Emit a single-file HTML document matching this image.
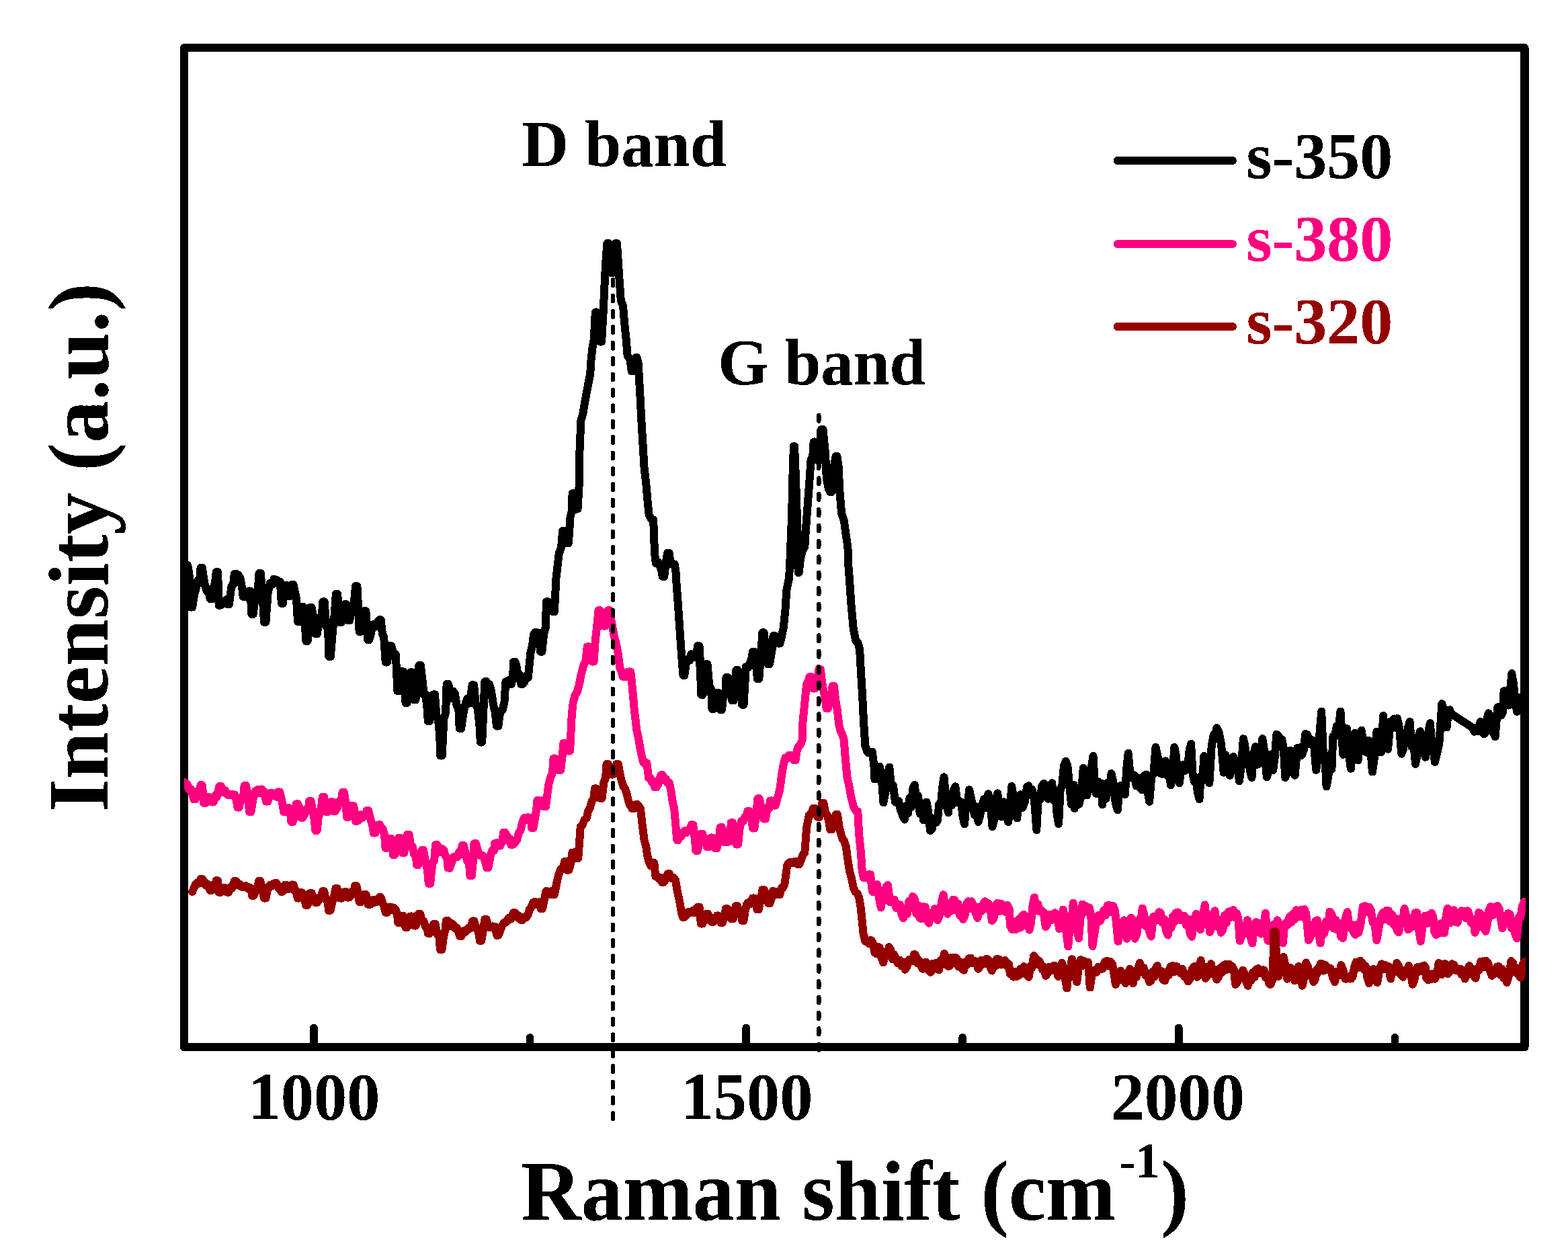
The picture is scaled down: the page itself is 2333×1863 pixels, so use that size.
<!DOCTYPE html>
<html lang="en">
<head>
<meta charset="utf-8">
<title>Raman spectra</title>
<style>
html,body{margin:0;padding:0;background:#fff;}
body{width:2333px;height:1863px;overflow:hidden;}
svg{display:block;}
text{font-family:"Liberation Serif","DejaVu Serif",serif;font-weight:bold;stroke-linejoin:round;}
</style>
</head>
<body>
<svg width="2333" height="1863" viewBox="0 0 2333 1863">
<rect x="0" y="0" width="2333" height="1863" fill="#ffffff"/>
<defs><filter id="hard" filterUnits="userSpaceOnUse" x="0" y="0" width="2333" height="1863" color-interpolation-filters="sRGB"><feComponentTransfer><feFuncA type="discrete" tableValues="0 1"/></feComponentTransfer></filter></defs>
<defs><clipPath id="plotclip"><rect x="273.9" y="70.9" width="1996.1" height="1487.3"/></clipPath></defs>
<rect id="frame" filter="url(#hard)" x="273.9" y="70.9" width="1994.6" height="1487.3" fill="none" stroke="#000" stroke-width="12" stroke-linejoin="round"/>
<g id="ticks" filter="url(#hard)" stroke="#000" stroke-width="11.6" stroke-linecap="round">
<line x1="466.9" y1="1558.2" x2="466.9" y2="1529.4"/>
<line x1="1110.3" y1="1558.2" x2="1110.3" y2="1529.4"/>
<line x1="1753.8" y1="1558.2" x2="1753.8" y2="1529.4"/>
<line x1="788.6" y1="1558.2" x2="788.6" y2="1543.8"/>
<line x1="1432.1" y1="1558.2" x2="1432.1" y2="1543.8"/>
<line x1="2075.5" y1="1558.2" x2="2075.5" y2="1543.8"/>
</g>
<g id="curves" clip-path="url(#plotclip)">
<polyline id="s350" filter="url(#hard)" points="279.3,841.3 282.1,858.8 283.7,903.6 286.1,903.6 289.2,884.8 292.3,872.9 294.8,862.5 297.2,865.7 298.5,845.1 300.9,845.1 303.1,860.2 305.3,872.9
308.1,880.3 310.9,876.9 312.5,891.0 314.9,891.0 317.6,880.2 320.3,863.7 321.8,851.0 324.1,851.0 325.6,900.8 327.9,900.8 330.5,899.3 332.0,895.2
334.4,895.2 337.0,891.9 338.5,899.0 340.9,899.0 344.3,872.9 347.1,869.4 348.7,854.0 351.1,854.0 354.2,855.0 357.4,859.9 360.1,874.6 361.7,887.8
364.1,887.8 366.5,881.1 368.9,889.4 370.1,879.4 372.5,879.4 374.4,913.8 376.8,913.8 379.3,891.7 381.8,890.7 384.2,871.2 385.5,852.9 387.9,852.9
391.0,894.2 393.0,925.9 395.4,925.9 398.7,881.6 402.0,867.4 404.8,870.1 407.5,861.6 409.1,862.7 411.5,862.7 414.1,868.6 416.8,865.5 418.8,898.0
420.8,898.0 423.0,878.3 424.0,871.1 426.4,871.1 428.7,886.9 431.1,886.9 433.2,884.3 434.2,870.1 436.6,870.1 438.8,880.5 441.0,891.5 443.0,925.0
445.0,925.0 447.2,918.6 448.2,902.7 450.6,902.7 453.5,921.4 455.2,953.8 457.6,953.8 460.0,932.7 461.2,904.0 463.6,904.0 466.0,915.4 468.3,931.5
469.5,943.2 471.9,943.2 474.3,923.4 476.7,926.3 479.1,911.2 480.3,895.2 482.7,895.2 485.3,932.5 488.0,933.9 489.4,977.0 491.8,977.0 494.9,939.4
497.9,912.5 499.8,883.7 502.2,883.7 505.2,925.9 507.6,925.9 510.8,916.8 512.7,899.0 515.1,899.0 517.9,923.1 520.3,923.1 522.8,903.7 525.2,906.2
527.7,887.8 529.0,872.0 531.4,872.0 533.6,914.3 534.6,939.9 537.0,939.9 540.1,917.4 542.0,909.2 544.4,909.2 547.1,951.9 549.5,951.9 552.1,941.5
554.6,929.6 557.2,928.7 560.0,932.0 562.7,924.4 564.3,922.2 566.7,922.2 568.9,943.4 571.1,947.3 573.7,985.4 576.0,985.4 578.6,967.5 580.1,961.2
582.5,961.2 585.6,975.0 588.8,973.3 591.4,1028.1 593.7,1028.1 596.4,1008.0 597.8,999.3 600.2,999.3 602.4,1026.3 603.4,1045.8 605.8,1045.8 608.9,1017.9
610.8,1000.3 613.2,1000.3 616.0,1041.2 618.4,1041.2 621.5,1023.0 623.4,990.0 625.8,990.0 628.2,1009.7 630.7,1033.6 633.1,1032.4 635.6,1055.1 636.8,1073.1
639.2,1073.1 642.5,1050.5 644.6,1033.2 647.0,1033.2 649.4,1064.7 651.8,1070.5 654.1,1092.5 655.3,1124.5 657.7,1124.5 660.4,1069.6 663.1,1060.3 664.6,1018.0
667.0,1018.0 669.5,1028.6 672.0,1039.2 674.5,1028.7 677.0,1032.9 679.6,1049.9 682.3,1054.8 683.7,1084.0 686.1,1084.0 689.5,1061.4 692.8,1045.9 695.6,1039.2
698.3,1046.7 701.1,1030.8 702.7,1019.3 705.1,1019.3 707.8,1048.6 710.5,1053.5 713.3,1077.3 714.8,1104.4 717.2,1104.4 719.9,1045.2 721.3,1014.3 723.7,1014.3
725.9,1025.2 728.1,1018.0 730.9,1028.0 733.6,1045.9 736.9,1061.8 738.9,1080.6 741.3,1080.6 744.3,1059.0 747.4,1057.1 750.4,1045.9 752.4,1014.3 754.4,1014.3
757.1,1012.2 758.5,1018.0 760.9,1018.0 763.1,1008.5 764.0,984.9 766.4,984.9 768.9,992.9 771.4,1009.8 773.9,1004.6 775.2,1018.0 777.6,1018.0 780.3,1014.9
783.0,1006.1 785.7,1008.7 789.4,971.5 791.8,961.4 794.1,943.6 796.6,940.7 799.0,951.3 800.3,941.4 802.6,941.4 804.1,969.7 806.4,969.7 809.1,943.3
811.7,934.3 813.0,895.3 814.8,895.3 817.8,905.0 820.8,897.4 822.6,910.2 824.9,910.2 827.5,860.0 831.7,823.5 835.0,814.8 837.1,790.0 839.5,790.0
842.1,794.5 843.6,808.3 845.9,808.3 848.5,769.6 850.6,761.3 851.6,734.3 854.0,734.3 856.4,741.2 857.5,757.5 859.5,757.5 861.5,725.0 862.4,672.9
864.3,626.5 867.5,614.6 870.8,594.9 874.5,575.1 878.2,556.5 879.5,536.1 881.6,516.5 883.8,504.5 885.8,464.5 887.8,464.5 890.9,490.6 892.8,508.6
895.1,508.6 897.7,463.6 899.2,430.1 901.1,392.9 903.3,362.1 905.4,362.1 908.1,377.3 909.5,405.9 911.9,405.9 914.6,388.7 916.0,362.1 918.0,362.1
920.0,392.9 921.9,420.8 923.8,446.8 927.1,456.1 929.3,482.2 931.6,504.5 933.6,528.6 937.7,536.1 939.7,551.9 941.7,551.9 944.4,534.7 945.8,532.3
947.8,532.3 949.8,541.6 951.3,569.5 952.0,580.0 954.4,626.5 957.2,672.9 958.7,698.0 961.3,719.4 963.7,747.3 965.6,765.9 968.9,772.6 972.1,773.3
973.0,793.8 973.9,821.6 975.8,838.4 978.6,835.4 981.4,840.2 984.2,849.2 985.8,857.9 988.2,857.9 991.3,833.5 993.2,822.9 995.6,822.9 997.8,839.3
1000.0,838.4 1003.7,839.7 1005.5,851.4 1005.9,859.9 1008.7,897.2 1012.5,952.9 1015.2,990.1 1016.5,1005.0 1018.3,1005.0 1021.0,985.7 1023.6,980.8 1026.1,982.8
1028.5,973.2 1031.0,975.2 1033.8,978.3 1036.6,969.8 1038.2,961.3 1040.6,961.3 1042.8,1001.0 1043.8,1032.9 1046.2,1032.9 1038.1,961.3 1040.5,961.3 1043.3,1033.8
1045.7,1033.8 1048.6,1006.6 1050.2,988.3 1052.6,988.3 1055.3,1020.4 1058.0,1025.7 1059.5,1054.8 1061.9,1054.8 1065.0,1045.7 1066.9,1031.0 1069.3,1031.0 1071.6,1056.1
1074.0,1056.1 1076.6,1031.6 1079.1,1034.5 1080.5,1008.1 1082.9,1008.1 1085.4,1018.8 1087.9,1031.0 1089.2,1042.2 1091.6,1042.2 1094.1,1017.2 1095.3,997.0 1097.7,997.0
1100.2,1022.7 1102.8,1020.2 1104.1,1048.7 1106.5,1048.7 1109.9,992.0 1112.7,994.0 1115.5,988.3 1118.3,979.5 1119.9,970.0 1122.3,970.0 1125.2,992.5 1126.9,1010.2
1129.3,1010.2 1132.4,969.4 1134.4,941.2 1136.8,941.2 1139.1,969.2 1141.5,965.6 1142.6,988.3 1145.0,988.3 1148.3,969.5 1150.5,945.9 1152.9,945.9 1156.1,949.5
1158.0,957.6 1160.4,957.6 1163.1,946.4 1165.7,934.3 1168.5,906.5 1170.3,878.6 1174.1,860.0 1175.5,832.3 1178.1,767.3 1179.8,692.9 1181.0,663.9 1182.0,663.9
1183.3,692.9 1184.6,730.1 1185.8,767.3 1186.7,804.5 1187.6,851.9 1188.8,851.9 1190.8,832.3 1194.0,819.2 1197.3,813.8 1199.1,785.9 1201.9,748.7 1204.7,711.5
1206.6,683.6 1209.2,679.4 1210.6,657.6 1213.0,657.6 1215.3,663.0 1216.5,685.1 1218.9,685.1 1221.1,666.0 1222.1,639.0 1224.5,639.0 1228.0,674.3 1229.8,711.5
1232.6,726.4 1235.2,732.0 1237.5,732.0 1241.0,692.9 1243.6,679.0 1245.5,679.0 1247.5,692.9 1249.3,730.1 1252.1,763.6 1255.8,774.7 1258.6,795.2 1261.4,813.8
1262.3,841.6 1263.8,860.0 1266.4,899.0 1269.8,936.2 1273.1,952.9 1276.1,955.5 1279.1,965.9 1280.9,999.4 1283.2,1036.6 1285.0,1073.8 1287.4,1110.0 1290.2,1118.2
1291.8,1120.2 1294.2,1120.2 1297.7,1118.4 1300.4,1138.8 1301.4,1159.3 1303.9,1146.7 1306.3,1159.1 1308.8,1140.7 1311.6,1154.5 1314.4,1194.3 1317.4,1178.1 1320.3,1153.2
1323.3,1141.4 1326.2,1171.7 1329.0,1168.6 1331.9,1193.3 1334.8,1194.3 1337.2,1191.8 1339.5,1203.6 1342.8,1213.3 1346.0,1219.4 1348.5,1199.3 1351.0,1210.4 1353.5,1186.8
1355.9,1200.9 1358.4,1173.1 1360.9,1168.0 1363.5,1195.4 1366.1,1184.4 1368.7,1210.5 1371.3,1196.9 1373.9,1220.4 1376.2,1213.0 1378.5,1193.4 1381.3,1208.9 1384.1,1236.2
1386.9,1232.7 1389.7,1218.2 1392.5,1224.1 1394.9,1221.2 1397.3,1196.7 1399.7,1199.4 1402.1,1172.1 1404.5,1156.2 1407.8,1193.7 1411.0,1209.2 1413.6,1182.0 1416.2,1198.2
1418.7,1176.5 1421.3,1170.2 1424.5,1193.7 1427.7,1195.2 1430.2,1193.4 1432.6,1215.8 1435.1,1226.4 1437.4,1193.8 1439.7,1202.9 1442.0,1175.1 1444.6,1185.7 1447.2,1199.8
1450.0,1212.6 1452.7,1200.4 1455.5,1223.0 1458.3,1212.9 1461.1,1198.9 1464.2,1189.0 1467.3,1201.5 1470.4,1181.2 1473.5,1192.2 1476.5,1230.1 1479.1,1219.9 1481.7,1193.9
1484.3,1180.3 1487.1,1206.2 1489.9,1215.6 1493.6,1193.3 1496.8,1196.9 1500.1,1223.0 1502.7,1206.7 1505.2,1170.1 1507.9,1185.0 1510.5,1204.7 1513.2,1217.5 1516.0,1191.2
1518.7,1182.2 1521.5,1201.7 1524.8,1192.9 1528.0,1170.6 1530.5,1169.3 1533.0,1182.2 1535.5,1174.7 1538.9,1189.4 1542.3,1235.1 1544.8,1187.7 1547.6,1189.6 1550.3,1169.9
1553.1,1165.8 1556.3,1184.9 1559.6,1188.7 1562.4,1173.1 1565.2,1165.1 1567.7,1190.8 1570.2,1179.0 1572.6,1210.6 1575.1,1225.8 1577.7,1174.3 1580.3,1169.0 1582.9,1139.8
1585.7,1132.6 1588.4,1139.8 1591.2,1169.2 1594.0,1197.0 1597.7,1168.2 1598.7,1203.0 1602.0,1186.1 1605.2,1197.0 1608.5,1185.6 1611.7,1143.1 1614.5,1153.2 1617.2,1183.6
1620.3,1172.4 1623.4,1144.3 1626.5,1124.9 1628.8,1167.3 1631.2,1181.2 1633.7,1163.0 1636.1,1177.7 1638.6,1165.4 1640.1,1197.4 1642.8,1177.0 1645.5,1188.5 1648.1,1164.6
1650.8,1178.7 1653.5,1150.9 1656.6,1164.8 1659.7,1194.7 1662.8,1205.4 1665.1,1178.3 1667.4,1169.1 1670.7,1179.6 1673.9,1182.2 1676.2,1144.7 1678.6,1120.8 1681.8,1154.3
1685.1,1158.0 1687.9,1153.3 1690.7,1169.6 1693.4,1157.3 1696.2,1171.9 1699.3,1175.3 1702.4,1154.3 1705.5,1152.4 1707.8,1179.1 1710.2,1192.9 1713.3,1154.9 1716.4,1151.5
1719.5,1111.9 1722.8,1126.5 1726.0,1150.6 1728.8,1151.9 1731.5,1133.5 1734.3,1132.3 1736.8,1154.3 1739.3,1143.8 1741.8,1168.2 1744.6,1151.0 1747.4,1111.9 1749.9,1125.1
1752.3,1153.9 1754.8,1165.1 1758.0,1142.0 1761.3,1137.5 1764.1,1146.6 1766.9,1143.1 1769.5,1116.9 1772.1,1106.9 1774.6,1151.7 1777.1,1163.6 1779.6,1158.6 1782.0,1179.8
1784.5,1189.2 1786.8,1155.2 1789.1,1161.5 1791.4,1124.9 1794.1,1131.5 1796.7,1155.4 1799.4,1165.1 1802.7,1110.1 1805.9,1092.9 1808.2,1096.5 1810.4,1083.1 1813.7,1090.3
1817.0,1107.3 1820.7,1149.7 1823.5,1123.1 1826.8,1150.0 1830.0,1153.8 1832.6,1133.8 1835.2,1125.9 1838.1,1144.4 1841.0,1134.0 1843.9,1162.1 1846.9,1139.4 1849.9,1099.3
1852.4,1109.7 1854.9,1135.8 1857.5,1127.0 1860.0,1147.4 1862.5,1157.1 1865.3,1120.4 1868.1,1111.0 1871.8,1137.6 1875.0,1129.4 1878.3,1099.3 1881.5,1119.5 1884.8,1156.2
1887.1,1149.0 1889.4,1123.1 1891.8,1126.9 1894.1,1146.3 1896.7,1127.3 1899.3,1092.8 1901.9,1094.2 1904.5,1108.2 1907.1,1099.9 1909.7,1112.5 1912.3,1157.1 1914.9,1149.5
1917.5,1121.5 1920.1,1116.6 1923.3,1146.3 1926.6,1153.8 1930.3,1112.9 1933.5,1112.5 1936.8,1124.0 1939.6,1116.5 1942.4,1092.0 1945.5,1093.6 1948.6,1107.1 1951.7,1100.8
1955.0,1107.6 1958.2,1145.9 1960.9,1122.7 1963.5,1090.6 1966.2,1058.6 1968.7,1118.8 1971.1,1123.2 1973.6,1170.5 1976.2,1155.4 1978.8,1137.4 1981.4,1144.5 1983.3,1096.1
1986.1,1095.6 1988.9,1079.9 1991.7,1083.4 1994.5,1058.6 1998.2,1122.7 2001.0,1091.0 2003.8,1084.1 2006.8,1122.2 2009.9,1143.9 2012.8,1107.2 2015.8,1090.6 2018.2,1118.7
2020.5,1131.4 2023.1,1101.1 2025.7,1086.8 2029.8,1116.6 2033.0,1119.8 2036.3,1101.7 2039.1,1112.8 2041.9,1148.6 2045.2,1125.4 2048.4,1088.7 2051.7,1097.4 2054.9,1119.4
2058.2,1064.9 2060.5,1095.3 2062.8,1087.0 2065.1,1114.7 2068.8,1073.8 2071.4,1081.8 2073.9,1069.5 2076.4,1082.7 2079.0,1069.2 2082.1,1082.9 2085.2,1121.8 2087.7,1115.5
2090.2,1094.5 2092.6,1105.5 2095.1,1082.6 2097.6,1073.8 2100.4,1111.1 2103.2,1104.2 2106.0,1137.0 2108.3,1126.1 2110.7,1096.2 2113.0,1088.3 2115.6,1111.8 2118.3,1098.4
2120.9,1126.8 2123.2,1115.2 2125.6,1086.7 2127.9,1076.1 2130.2,1107.6 2132.5,1105.7 2134.8,1133.9 2138.1,1120.6 2141.3,1107.3 2145.4,1047.2 2147.8,1055.6 2150.1,1080.3
2152.5,1082.6 2154.8,1059.2 2157.1,1056.2 2158.6,1061.7 2190.2,1082.2 2193.9,1088.7 2197.7,1082.2 2200.2,1087.9 2202.6,1074.0 2205.1,1077.5 2207.9,1092.4 2210.2,1090.4
2212.5,1069.2 2214.8,1061.3 2217.2,1081.3 2219.7,1066.3 2222.2,1091.1 2224.6,1096.1 2228.3,1052.4 2230.8,1051.9 2233.3,1064.7 2235.8,1059.9 2237.6,1028.3 2240.1,1027.4
2242.6,1046.0 2245.1,1049.6 2249.3,1002.0 2251.9,1017.3 2254.5,1044.1 2257.1,1058.9 2259.6,1037.9 2262.1,1055.0 2264.6,1046.8" fill="none" stroke="#000000" stroke-width="12" stroke-linejoin="round" stroke-linecap="round"/>
<polyline id="s380" filter="url(#hard)" points="273.7,1163.7 275.6,1165.5 278.4,1166.9 281.2,1174.6 283.9,1173.9 286.7,1183.4 288.3,1189.3 290.7,1189.3 293.7,1177.4 296.7,1180.0 298.5,1168.3 300.9,1168.3
303.2,1194.9 305.6,1194.9 307.8,1186.7 308.8,1186.0 311.2,1186.0 313.9,1192.0 315.3,1193.6 317.7,1193.6 320.2,1183.4 322.6,1186.1 325.1,1175.6 326.4,1170.2
328.8,1170.2 331.8,1178.9 334.7,1175.8 337.7,1182.3 339.4,1183.2 341.8,1183.2 345.0,1181.7 346.9,1182.6 349.3,1182.6 352.0,1192.5 353.4,1201.4 355.8,1201.4
358.8,1186.9 361.8,1187.2 363.6,1169.1 366.0,1169.1 369.1,1186.9 371.0,1207.9 373.4,1207.9 376.5,1189.3 379.7,1177.6 382.8,1175.3 385.9,1180.0 387.8,1174.6
390.2,1174.6 392.6,1177.7 394.9,1187.8 396.1,1192.5 398.5,1192.5 401.1,1181.7 402.6,1179.9 405.0,1179.9 407.3,1184.1 409.7,1184.1 412.4,1185.9 413.8,1178.4
416.2,1178.4 418.6,1188.0 420.9,1199.6 422.1,1207.9 424.5,1207.9 426.8,1201.8 429.2,1201.8 431.9,1209.1 433.3,1222.8 435.7,1222.8 438.8,1211.5 440.7,1196.2
443.1,1196.2 446.2,1202.8 448.2,1216.7 450.6,1216.7 453.3,1211.7 456.0,1203.8 458.7,1206.5 460.2,1191.9 462.6,1191.9 465.2,1205.9 467.8,1219.9 469.2,1235.8
471.6,1235.8 473.9,1214.3 476.3,1210.3 478.6,1197.2 479.8,1185.8 482.2,1185.8 484.4,1200.6 485.3,1207.9 487.7,1207.9 490.9,1196.5 492.8,1193.2 495.1,1193.2
496.6,1207.0 498.9,1207.0 501.8,1201.9 504.8,1191.7 507.8,1194.4 509.5,1178.9 511.9,1178.9 514.5,1195.6 516.0,1215.9 518.4,1215.9 521.5,1208.5 523.4,1199.0
525.8,1199.0 528.0,1208.7 529.0,1221.9 531.4,1221.9 534.0,1220.0 536.6,1212.1 539.2,1216.9 541.8,1211.8 544.4,1213.9 545.8,1206.2 548.2,1206.2 551.2,1218.3
554.2,1229.1 556.0,1239.5 558.4,1239.5 561.1,1229.3 562.5,1227.2 564.9,1227.2 567.1,1233.7 569.3,1232.8 572.0,1241.9 573.6,1261.8 576.0,1261.8 578.2,1258.1
579.2,1247.7 581.6,1247.7 583.8,1257.4 584.8,1272.0 587.2,1272.0 589.6,1263.5 591.9,1255.1 593.1,1247.1 595.5,1247.1 597.7,1260.5 598.7,1269.3 601.1,1269.3
604.2,1253.8 606.2,1242.1 608.6,1242.1 611.1,1257.8 613.7,1259.6 616.2,1271.6 618.8,1272.7 620.1,1286.9 622.5,1286.9 625.6,1280.5 627.5,1265.0 629.9,1265.0
632.9,1280.1 636.0,1295.0 637.8,1314.8 640.2,1314.8 643.2,1285.4 646.2,1279.8 648.0,1257.0 650.4,1257.0 652.9,1262.6 655.4,1268.1 657.8,1263.0 660.3,1265.4
662.8,1274.2 665.3,1276.9 666.6,1291.6 669.0,1291.6 672.0,1283.7 674.9,1275.1 677.9,1274.3 680.6,1275.2 683.3,1267.2 686.0,1270.6 687.5,1257.9 689.9,1257.9
692.6,1269.9 695.2,1281.6 697.9,1283.6 699.4,1303.1 701.8,1303.1 704.2,1279.1 705.5,1255.3 707.9,1255.3 710.9,1265.1 713.9,1272.8 716.9,1272.4 719.7,1275.1
722.5,1283.7 724.1,1291.0 726.5,1291.0 729.9,1272.4 732.4,1265.1 734.9,1265.8 736.2,1254.8 738.6,1254.8 740.8,1253.6 741.7,1258.5 744.1,1258.5 747.2,1252.4
749.2,1239.0 751.6,1239.0 754.1,1243.7 756.5,1251.2 759.0,1248.3 760.3,1257.2 762.7,1257.2 765.9,1254.1 769.0,1250.1 771.8,1239.5 774.5,1235.8 777.3,1223.0
780.1,1217.0 782.9,1220.1 785.7,1216.4 787.3,1216.7 789.6,1216.7 791.1,1232.1 793.4,1232.1 795.8,1218.9 798.2,1204.6 799.4,1191.0 801.8,1191.0 804.8,1199.2
807.8,1191.0 809.6,1200.3 812.0,1200.3 814.4,1181.7 816.7,1165.1 819.1,1157.4 821.9,1149.7 823.5,1128.6 825.9,1128.6 828.3,1133.2 830.7,1139.0 831.9,1145.9
834.3,1145.9 837.0,1121.4 838.4,1105.7 840.8,1105.7 843.9,1110.5 845.8,1117.4 848.1,1117.4 850.7,1064.5 852.6,1045.9 855.7,1034.3 858.8,1029.6 861.9,1018.0
865.1,1001.8 868.4,990.1 871.6,982.7 873.7,962.2 876.1,962.2 879.2,967.4 881.1,984.5 883.5,984.5 885.7,954.0 887.9,934.3 890.5,908.3 892.8,908.3
896.0,916.8 897.9,931.6 900.3,931.6 903.0,922.3 904.4,908.3 906.8,908.3 910.2,926.9 913.9,947.4 916.7,957.2 919.5,971.5 922.3,993.8 925.1,1000.9
926.7,1006.8 929.1,1006.8 931.8,1000.9 934.5,1007.1 936.0,999.4 938.3,999.4 940.9,1023.6 943.7,1055.2 947.4,1086.8 950.2,1099.4 953.0,1116.5 956.7,1133.2
959.5,1136.4 962.3,1135.1 965.1,1157.4 967.6,1157.7 970.2,1164.2 972.8,1162.1 974.1,1171.3 976.5,1171.3 979.2,1167.4 981.9,1157.4 983.4,1153.3 985.8,1153.3
988.3,1161.4 990.8,1159.0 993.2,1164.9 995.7,1164.6 998.2,1175.3 1000.7,1192.9 1003.2,1203.6 1006.9,1246.4 1007.5,1250.1 1009.0,1250.1 1011.4,1242.9 1013.8,1244.4
1016.2,1239.0 1018.7,1236.0 1021.1,1239.4 1023.6,1236.2 1026.8,1233.2 1028.9,1227.2 1031.3,1227.2 1033.9,1248.9 1035.4,1265.9 1037.8,1265.9 1040.9,1248.9 1042.9,1240.8
1045.3,1240.8 1047.9,1253.2 1050.6,1249.4 1052.0,1260.3 1054.4,1260.3 1056.6,1255.5 1057.6,1246.4 1060.0,1246.4 1062.7,1249.4 1064.1,1262.2 1066.5,1262.2 1069.7,1249.2
1071.6,1231.0 1074.0,1231.0 1076.7,1241.8 1078.1,1252.9 1080.5,1252.9 1083.2,1253.0 1085.8,1252.0 1087.8,1224.1 1089.8,1224.1 1092.2,1234.3 1094.5,1244.0 1095.7,1256.6
1098.1,1256.6 1100.8,1230.5 1103.4,1221.3 1106.0,1221.9 1108.5,1215.0 1111.0,1216.1 1112.4,1207.0 1114.8,1207.0 1117.9,1214.2 1119.9,1232.5 1122.3,1232.5 1125.4,1213.1
1127.3,1188.2 1129.7,1188.2 1132.4,1200.3 1135.1,1209.9 1136.6,1218.5 1139.0,1218.5 1141.7,1202.2 1144.4,1203.1 1145.9,1191.6 1148.3,1191.6 1150.5,1191.8 1151.5,1198.4
1153.9,1198.4 1157.0,1186.6 1160.1,1175.8 1163.8,1147.9 1166.2,1135.4 1168.5,1127.4 1171.3,1129.0 1174.0,1123.7 1175.6,1123.7 1178.0,1123.7 1180.2,1128.2 1181.2,1131.2
1183.6,1131.2 1185.8,1116.4 1188.0,1110.9 1190.8,1108.2 1193.6,1101.6 1194.5,1073.8 1197.3,1045.9 1200.1,1018.0 1202.9,1012.4 1204.5,1007.2 1206.9,1007.2 1209.1,1017.6
1210.0,1024.5 1212.4,1024.5 1214.8,1009.9 1217.2,1011.3 1218.4,995.7 1220.8,995.7 1223.0,1014.8 1225.2,1027.3 1228.0,1039.2 1229.5,1054.2 1231.9,1054.2 1234.5,1037.1
1237.1,1038.3 1238.5,1020.8 1240.9,1020.8 1243.2,1041.9 1245.6,1055.2 1248.4,1079.3 1250.7,1088.1 1253.0,1092.3 1255.8,1101.6 1257.1,1120.2 1260.5,1157.2 1263.3,1168.9
1266.1,1185.1 1269.8,1199.9 1273.0,1205.9 1276.3,1207.4 1278.1,1240.8 1280.9,1268.7 1282.8,1296.6 1284.8,1305.9 1286.8,1305.9 1289.2,1302.3 1291.5,1307.4 1292.7,1301.2
1295.0,1301.2 1297.7,1324.5 1298.6,1327.2 1301.8,1318.9 1305.1,1316.1 1307.9,1336.7 1310.7,1350.5 1313.2,1333.0 1315.8,1339.6 1318.4,1319.6 1320.9,1317.0 1324.2,1342.3
1327.4,1343.0 1330.5,1338.6 1333.6,1351.2 1336.7,1346.8 1339.2,1346.0 1341.6,1361.1 1344.1,1366.3 1346.9,1351.7 1349.7,1360.2 1352.5,1340.8 1355.3,1350.7 1358.1,1333.8
1360.7,1337.0 1363.3,1359.5 1365.9,1347.0 1368.5,1366.1 1371.1,1367.2 1373.9,1349.3 1376.7,1349.6 1379.5,1368.1 1382.2,1373.7 1385.0,1358.9 1387.8,1365.3 1390.6,1352.3
1392.9,1354.3 1395.2,1369.1 1398.0,1361.8 1400.8,1343.2 1403.6,1331.3 1406.8,1352.6 1410.1,1359.8 1412.6,1344.9 1415.2,1355.4 1417.8,1339.1 1420.3,1339.3 1422.9,1354.9
1425.4,1344.7 1428.0,1362.1 1430.5,1351.6 1433.1,1367.9 1435.6,1362.0 1438.1,1345.4 1440.6,1341.3 1443.1,1352.3 1445.5,1341.3 1448.0,1346.0 1451.2,1357.4 1454.5,1365.9
1457.3,1349.7 1460.1,1356.3 1462.9,1346.0 1465.4,1341.1 1467.8,1352.6 1470.3,1344.1 1473.1,1348.9 1475.9,1370.1 1478.7,1365.9 1481.4,1346.6 1484.2,1343.6 1487.0,1356.1
1489.8,1344.9 1492.6,1350.6 1495.7,1356.7 1498.8,1346.8 1501.9,1353.4 1502.8,1376.7 1505.3,1382.8 1507.9,1371.4 1510.5,1383.4 1513.0,1381.3 1515.6,1368.1 1518.2,1380.4
1520.7,1363.3 1523.3,1360.9 1526.1,1377.7 1528.8,1366.9 1531.6,1383.7 1534.1,1372.2 1536.6,1346.6 1539.1,1335.4 1541.6,1354.8 1544.2,1345.2 1546.8,1356.3 1549.3,1354.3
1552.5,1357.1 1555.8,1379.4 1558.3,1375.4 1560.7,1360.6 1563.2,1361.8 1566.3,1368.6 1569.4,1358.3 1572.5,1360.9 1576.2,1382.2 1579.0,1377.6 1581.8,1353.4 1584.3,1365.2
1586.8,1390.4 1589.3,1408.3 1591.8,1375.3 1594.2,1374.9 1596.7,1343.6 1599.5,1361.0 1602.3,1382.3 1605.1,1396.2 1607.8,1363.1 1610.6,1345.4 1613.2,1357.8 1615.8,1348.4
1618.3,1357.0 1620.9,1350.6 1623.2,1362.3 1625.5,1407.7 1628.8,1386.6 1632.0,1367.4 1634.5,1361.8 1636.9,1370.6 1639.4,1363.6 1642.2,1354.4 1645.0,1361.8 1647.8,1347.4
1650.6,1346.9 1653.4,1357.3 1656.2,1347.9 1659.0,1355.3 1661.3,1377.6 1663.6,1400.8 1665.9,1378.8 1668.3,1387.8 1670.7,1371.1 1673.0,1369.2 1676.5,1396.7 1679.8,1390.3
1683.0,1365.5 1685.8,1371.7 1688.6,1396.7 1691.4,1390.1 1694.2,1369.1 1696.9,1374.1 1699.7,1351.6 1702.3,1360.8 1704.9,1378.3 1707.6,1370.0 1710.2,1386.6 1712.8,1393.4
1716.0,1364.2 1719.3,1363.6 1721.8,1368.9 1724.2,1357.2 1726.7,1358.1 1729.5,1373.2 1732.2,1367.4 1735.0,1385.0 1737.8,1391.5 1740.2,1375.7 1742.6,1380.5 1745.1,1363.2
1747.5,1372.1 1749.9,1358.1 1753.0,1357.4 1756.1,1369.0 1759.2,1363.6 1762.0,1362.7 1764.8,1376.4 1767.6,1367.5 1770.4,1388.4 1773.2,1393.8 1776.5,1369.1 1779.7,1359.9
1783.0,1379.2 1786.2,1383.2 1789.5,1361.7 1792.7,1346.4 1795.2,1372.3 1797.6,1364.6 1800.1,1386.9 1802.6,1379.2 1805.0,1361.4 1807.5,1355.3 1810.6,1378.0 1813.7,1368.6
1816.8,1387.8 1819.4,1383.6 1822.0,1361.9 1824.7,1373.2 1827.3,1357.1 1829.9,1356.2 1832.5,1364.6 1835.0,1354.2 1837.5,1364.9 1840.1,1359.0 1842.4,1366.5 1844.7,1399.9
1847.5,1392.1 1850.3,1378.5 1853.1,1389.3 1855.9,1369.2 1858.4,1378.4 1860.8,1395.1 1863.3,1403.6 1866.1,1377.3 1868.9,1372.0 1871.4,1385.9 1873.8,1374.4 1876.3,1389.7
1879.5,1382.8 1882.8,1359.0 1886.5,1399.9 1889.3,1384.8 1892.1,1392.4 1894.9,1375.8 1897.7,1388.1 1900.5,1369.2 1903.3,1374.3 1906.0,1394.0 1908.8,1403.6 1911.2,1376.1
1913.5,1372.9 1916.0,1376.4 1918.6,1363.8 1921.1,1372.5 1923.6,1360.0 1926.1,1368.1 1928.7,1354.2 1931.2,1356.2 1933.6,1363.8 1936.0,1353.4 1938.4,1364.5 1940.8,1353.1
1943.2,1359.0 1947.0,1399.0 1949.6,1393.9 1952.2,1375.9 1954.8,1387.5 1957.4,1370.7 1960.0,1369.2 1962.3,1391.3 1964.6,1403.6 1967.4,1381.4 1970.2,1389.0 1973.0,1371.0
1975.8,1379.1 1978.6,1356.6 1981.4,1360.0 1984.2,1381.6 1987.0,1368.7 1989.7,1383.5 1992.5,1373.9 1995.3,1394.1 1998.1,1395.8 2001.3,1369.4 2004.6,1357.1 2007.7,1380.3
2010.8,1375.4 2013.9,1386.9 2016.4,1390.9 2018.8,1375.5 2021.3,1387.8 2024.5,1374.8 2027.8,1349.1 2030.9,1348.1 2034.0,1357.2 2037.1,1349.7 2039.9,1355.3 2042.7,1372.7
2045.5,1375.2 2048.3,1399.0 2051.6,1380.5 2054.8,1363.6 2057.6,1358.0 2060.4,1367.9 2063.1,1354.8 2065.9,1355.3 2068.4,1371.3 2071.0,1360.6 2073.6,1376.2 2076.1,1366.4
2078.6,1384.1 2081.2,1387.4 2084.0,1367.5 2086.8,1372.6 2089.6,1351.9 2092.4,1363.1 2095.2,1383.2 2097.8,1381.0 2100.4,1366.7 2103.0,1377.9 2105.6,1358.5 2108.2,1358.1
2111.0,1383.4 2113.8,1400.8 2117.1,1373.9 2120.3,1362.7 2122.7,1374.2 2125.1,1361.7 2127.5,1372.3 2129.9,1358.7 2132.3,1363.6 2134.2,1385.9 2136.7,1391.1 2139.2,1378.2
2141.6,1388.4 2144.1,1373.9 2146.6,1388.0 2149.1,1387.8 2151.4,1364.8 2153.7,1351.9 2156.1,1369.1 2158.4,1372.9 2160.7,1355.9 2163.0,1354.3 2165.8,1371.9 2168.6,1372.9
2171.4,1358.9 2174.2,1355.3 2176.6,1363.0 2179.0,1355.5 2181.4,1366.5 2183.8,1355.3 2186.2,1361.8 2189.0,1373.7 2191.8,1367.9 2194.6,1387.8 2197.4,1379.6 2200.2,1358.1
2202.8,1359.2 2205.3,1379.7 2207.8,1366.0 2210.4,1385.9 2212.9,1375.6 2215.3,1354.9 2217.8,1349.1 2220.4,1362.3 2223.0,1349.5 2225.7,1360.1 2228.3,1347.8 2230.9,1353.4
2233.2,1368.9 2235.5,1381.3 2238.3,1365.8 2241.1,1373.9 2243.9,1359.0 2246.5,1360.2 2249.1,1381.2 2251.7,1371.4 2254.3,1389.7 2256.9,1396.2 2259.7,1365.6 2262.4,1364.4
2265.2,1347.8 2267.6,1342.1 2269.9,1347.8" fill="none" stroke="#ff0080" stroke-width="12" stroke-linejoin="round" stroke-linecap="round"/>
<polyline id="s320" filter="url(#hard)" points="286.2,1326.9 290.4,1317.0 293.5,1313.4 296.6,1314.6 298.5,1308.1 300.9,1308.1 303.5,1311.3 306.0,1317.4 308.6,1315.2 311.1,1322.4 312.5,1325.0 314.9,1325.0
317.6,1316.4 320.3,1319.4 321.8,1310.3 324.1,1310.3 325.6,1327.8 327.9,1327.8 330.5,1321.5 332.0,1320.7 334.4,1320.7 336.6,1326.2 337.6,1327.8 340.0,1327.8
342.5,1320.2 344.9,1322.1 347.4,1315.0 348.7,1310.9 351.1,1310.9 354.0,1317.5 357.0,1315.7 359.9,1320.0 362.9,1319.8 365.7,1318.3 368.5,1321.9 371.3,1320.4
373.8,1322.8 375.1,1332.8 377.5,1332.8 380.4,1326.2 383.3,1319.3 385.0,1310.9 387.4,1310.9 390.8,1326.3 393.0,1336.5 395.4,1336.5 398.7,1320.5 402.0,1316.7
404.8,1318.2 407.5,1314.6 409.1,1314.1 411.5,1314.1 414.2,1321.3 416.9,1319.9 418.4,1326.7 420.8,1326.7 423.0,1323.2 424.0,1317.0 426.4,1317.0 428.7,1322.6
431.1,1322.6 433.2,1318.4 434.2,1316.5 436.6,1316.5 439.0,1325.9 441.4,1326.3 442.6,1336.5 445.0,1336.5 447.2,1328.2 449.6,1328.2 453.0,1339.1 455.2,1346.8
457.6,1346.8 460.0,1335.8 461.2,1329.1 463.6,1329.1 466.0,1336.5 468.3,1335.7 469.5,1343.0 471.9,1343.0 474.9,1338.2 478.0,1333.0 479.8,1326.3 482.2,1326.3
484.9,1338.9 487.6,1340.5 489.1,1354.8 491.5,1354.8 494.5,1342.1 497.5,1331.4 499.3,1322.0 501.7,1322.0 504.4,1332.9 505.8,1336.5 508.2,1336.5 510.9,1329.2
512.3,1327.2 514.7,1327.2 516.9,1335.6 519.3,1335.6 521.8,1333.3 524.3,1326.4 526.8,1326.9 528.1,1318.3 530.5,1318.3 533.1,1329.6 534.6,1342.1 537.0,1342.1
540.1,1337.5 542.0,1331.0 544.4,1331.0 546.6,1336.5 547.6,1345.8 550.0,1345.8 552.6,1345.0 555.2,1338.9 557.8,1342.8 560.3,1338.8 562.9,1341.4 564.3,1335.2
566.7,1335.2 569.4,1343.1 572.1,1351.4 573.6,1357.9 576.0,1357.9 578.2,1351.2 579.2,1349.6 581.6,1349.6 584.0,1353.9 586.4,1351.0 588.8,1353.3 591.1,1362.4
592.2,1372.8 594.6,1372.8 596.8,1366.3 597.8,1363.1 600.2,1363.1 602.4,1373.1 603.4,1379.9 605.8,1379.9 608.9,1369.5 610.8,1363.5 613.2,1363.5 615.4,1372.6
616.4,1377.4 618.8,1377.4 621.5,1368.3 622.9,1360.1 625.3,1360.1 627.8,1370.4 630.4,1370.8 632.9,1378.8 635.5,1379.7 636.8,1389.0 639.2,1389.0 641.6,1386.0
644.0,1380.2 645.2,1375.0 647.6,1375.0 650.5,1390.2 653.3,1393.2 655.0,1413.1 657.4,1413.1 659.9,1395.2 662.5,1383.3 663.8,1370.0 666.2,1370.0 668.9,1378.6
671.5,1374.1 674.2,1375.6 677.0,1380.9 679.8,1380.5 682.5,1388.1 684.1,1392.9 686.5,1392.9 689.2,1385.3 691.9,1387.4 694.6,1383.9 697.0,1380.4 699.5,1381.7
701.9,1375.3 703.1,1370.4 705.5,1370.4 707.9,1381.0 710.3,1381.2 712.7,1390.6 713.9,1399.7 716.3,1399.7 719.4,1380.8 721.3,1368.1 723.7,1368.1 726.8,1378.7
728.7,1380.2 731.1,1380.2 733.3,1378.4 734.3,1379.3 736.7,1379.3 739.3,1391.7 741.7,1391.7 744.6,1384.0 747.5,1376.1 750.4,1372.8 752.7,1372.6 755.0,1369.1
757.5,1365.3 760.1,1367.7 762.7,1361.1 764.0,1358.3 766.4,1358.3 768.9,1363.9 771.4,1362.1 773.9,1368.1 775.2,1369.1 777.6,1369.1 780.2,1364.6 782.9,1365.4
785.5,1361.5 788.0,1352.5 790.5,1350.3 793.1,1343.0 796.2,1341.8 799.3,1346.1 801.2,1342.5 803.4,1342.5 804.8,1352.3 807.0,1352.3 810.3,1337.1 812.4,1326.3
814.8,1326.3 817.8,1330.7 820.8,1325.5 822.6,1331.0 825.0,1331.0 828.0,1315.4 831.0,1302.1 834.0,1293.8 836.5,1293.0 838.9,1286.6 840.2,1282.1 842.5,1282.1
844.1,1294.7 846.4,1294.7 849.5,1283.7 851.4,1268.7 853.8,1268.7 856.5,1267.4 857.9,1277.1 860.3,1277.1 863.8,1229.7 866.9,1226.8 869.9,1219.4 873.0,1216.7
874.9,1207.4 877.7,1202.5 880.5,1192.4 883.3,1188.0 884.9,1173.3 887.3,1173.3 889.7,1177.0 892.0,1180.5 893.2,1187.8 895.6,1187.8 898.3,1164.5 901.0,1157.9
902.5,1137.1 904.9,1137.1 908.1,1144.1 910.0,1152.5 912.4,1152.5 915.5,1147.9 917.4,1137.1 919.8,1137.1 922.5,1152.2 925.1,1162.8 927.6,1170.6 930.0,1173.5
932.5,1181.3 934.9,1191.0 937.2,1198.1 939.5,1198.2 940.6,1203.3 943.0,1203.3 945.2,1202.0 946.2,1197.1 948.6,1197.1 950.8,1199.8 953.0,1203.6 955.8,1228.5
958.6,1250.1 961.1,1259.6 963.5,1274.1 966.0,1283.6 968.0,1288.2 969.9,1288.2 971.4,1283.6 973.3,1283.6 975.3,1304.0 978.1,1303.9 980.8,1308.4 983.6,1306.0
985.2,1312.8 987.6,1312.8 990.0,1309.1 992.4,1303.1 993.6,1300.3 996.0,1300.3 999.0,1307.0 1002.0,1305.9 1005.0,1309.6 1008.1,1328.0 1011.2,1341.4 1014.3,1359.8
1016.3,1365.0 1018.3,1365.0 1020.7,1362.7 1023.1,1357.3 1025.5,1357.0 1028.3,1358.2 1031.1,1354.7 1033.8,1358.0 1036.6,1352.1 1038.2,1349.6 1040.6,1349.6 1042.9,1374.6
1045.3,1374.6 1047.6,1369.6 1050.0,1363.7 1051.1,1359.8 1053.5,1359.8 1056.6,1368.1 1058.5,1371.9 1060.9,1371.9 1063.3,1365.3 1065.7,1368.5 1066.9,1362.6 1069.3,1362.6
1071.5,1365.1 1072.5,1372.8 1074.9,1372.8 1078.0,1364.3 1079.9,1352.3 1082.3,1352.3 1084.7,1357.1 1087.1,1362.5 1088.3,1367.2 1090.7,1367.2 1093.3,1355.5 1094.8,1348.3
1097.2,1348.3 1099.9,1359.3 1102.6,1357.8 1104.1,1370.0 1106.5,1370.0 1108.7,1355.3 1110.9,1345.8 1113.5,1342.6 1116.0,1345.5 1118.5,1339.5 1119.9,1336.5 1122.3,1336.5
1124.9,1345.1 1126.4,1353.3 1128.8,1353.3 1132.2,1336.4 1134.4,1324.1 1136.8,1324.1 1139.3,1335.0 1141.8,1334.9 1143.1,1344.0 1145.5,1344.0 1148.2,1335.4 1149.6,1326.3
1152.0,1326.3 1154.4,1327.2 1156.8,1331.2 1158.0,1331.0 1160.4,1331.0 1162.8,1321.6 1165.1,1321.0 1167.5,1315.2 1171.3,1287.3 1174.0,1283.5 1176.8,1282.6 1179.6,1284.4
1181.2,1282.3 1183.6,1282.3 1185.8,1281.6 1186.8,1286.0 1189.2,1286.0 1191.9,1279.8 1194.6,1271.7 1197.3,1268.7 1200.1,1231.5 1203.8,1212.9 1206.3,1212.4 1208.7,1206.6
1210.0,1202.7 1212.4,1202.7 1215.1,1210.0 1216.5,1215.7 1218.9,1215.7 1221.6,1205.2 1223.0,1194.9 1225.4,1194.9 1228.1,1209.6 1230.8,1212.6 1233.6,1223.9 1235.1,1234.3
1237.5,1234.3 1239.9,1222.3 1242.3,1223.1 1243.5,1212.0 1245.9,1212.0 1248.6,1229.5 1251.2,1240.8 1253.7,1248.7 1256.1,1251.5 1258.6,1259.4 1261.4,1279.4 1264.2,1296.6
1267.0,1307.0 1269.8,1320.7 1272.6,1327.3 1275.3,1329.2 1278.1,1335.6 1280.9,1352.3 1284.6,1389.5 1287.3,1400.7 1289.6,1400.7 1292.7,1404.0 1295.8,1398.8 1298.6,1402.8
1301.4,1417.4 1303.9,1419.2 1306.3,1408.9 1308.8,1410.0 1311.6,1425.9 1314.4,1432.3 1317.2,1417.1 1320.0,1422.4 1322.8,1409.0 1325.3,1413.1 1327.8,1427.3 1330.3,1420.5
1332.8,1426.8 1335.6,1433.3 1338.4,1428.4 1341.1,1437.1 1343.9,1431.8 1346.7,1442.6 1349.5,1438.7 1352.3,1428.1 1355.1,1428.7 1357.7,1429.9 1360.3,1419.8 1362.7,1421.9
1365.1,1433.6 1367.5,1428.8 1369.9,1436.1 1372.7,1441.7 1375.1,1440.6 1377.4,1431.5 1379.9,1433.8 1382.3,1444.7 1384.8,1446.7 1388.0,1433.9 1391.3,1433.3 1394.1,1440.8
1396.9,1443.6 1399.6,1428.7 1402.2,1435.5 1404.9,1419.0 1407.8,1425.3 1410.8,1438.0 1413.3,1437.2 1415.9,1424.6 1418.5,1432.7 1421.0,1424.4 1423.6,1426.7 1426.2,1438.3
1428.9,1431.4 1431.5,1442.0 1434.1,1443.6 1436.6,1431.3 1439.0,1435.6 1441.5,1426.3 1444.3,1425.4 1447.1,1433.0 1449.9,1429.6 1452.7,1430.7 1455.4,1441.7 1457.9,1438.7
1460.4,1428.7 1462.9,1429.6 1465.4,1433.9 1467.8,1426.5 1470.3,1428.1 1473.1,1438.2 1475.9,1444.5 1478.4,1431.6 1480.8,1438.0 1483.3,1427.2 1486.4,1427.4 1489.5,1435.6
1492.6,1432.4 1495.4,1429.1 1498.2,1437.6 1501.0,1434.3 1502.8,1449.1 1505.3,1446.2 1507.9,1453.5 1510.5,1446.0 1513.0,1452.9 1515.6,1451.7 1518.2,1441.8 1520.7,1448.7
1523.3,1438.0 1525.8,1440.7 1528.2,1451.0 1530.7,1453.8 1533.2,1437.4 1535.6,1440.2 1538.1,1422.2 1540.7,1425.6 1543.2,1434.8 1545.8,1429.3 1548.4,1434.3 1550.9,1442.8
1553.3,1438.9 1555.8,1451.9 1558.3,1449.2 1560.7,1438.8 1563.2,1439.9 1565.7,1444.0 1568.2,1436.6 1570.7,1438.0 1574.4,1452.9 1577.2,1449.8 1580.0,1432.8 1582.5,1440.5
1584.9,1457.5 1587.4,1470.5 1589.9,1446.9 1592.3,1448.4 1594.8,1427.2 1597.3,1438.2 1599.8,1453.1 1602.3,1461.2 1605.0,1437.8 1607.8,1428.1 1610.6,1437.1 1613.4,1430.3
1616.2,1435.9 1619.0,1431.5 1621.8,1469.6 1625.0,1447.3 1628.3,1443.6 1631.4,1446.9 1634.5,1438.4 1637.6,1441.7 1640.7,1441.5 1643.8,1431.3 1646.9,1429.6 1649.7,1436.9
1652.4,1430.9 1655.2,1435.2 1657.6,1450.0 1659.9,1464.9 1662.4,1449.4 1664.8,1458.2 1667.3,1444.5 1669.7,1448.2 1672.2,1458.2 1674.6,1463.1 1677.9,1449.0 1681.2,1441.7
1683.5,1457.0 1685.8,1463.1 1688.3,1447.8 1690.9,1453.8 1693.5,1439.7 1696.0,1432.4 1698.8,1445.7 1701.6,1439.7 1704.4,1451.5 1707.2,1448.2 1710.0,1461.2 1712.4,1459.7
1714.8,1445.9 1717.2,1454.0 1719.6,1440.8 1722.0,1437.1 1724.8,1448.9 1727.6,1444.9 1730.4,1457.6 1733.2,1459.4 1736.0,1446.0 1738.8,1451.1 1741.5,1438.6 1744.3,1437.1
1747.4,1446.1 1750.5,1437.9 1753.6,1441.7 1756.4,1448.1 1759.2,1441.8 1762.0,1453.2 1764.8,1449.6 1767.6,1460.3 1770.7,1456.7 1773.8,1441.8 1776.9,1438.0 1779.2,1450.5
1781.5,1453.8 1784.1,1438.2 1786.7,1429.1 1789.0,1446.2 1791.3,1438.3 1793.6,1455.7 1796.4,1452.3 1799.2,1438.1 1802.0,1434.3 1804.8,1449.9 1807.5,1442.6 1810.3,1457.5
1812.9,1454.3 1815.5,1440.3 1818.1,1447.4 1820.7,1436.1 1823.3,1435.2 1825.9,1442.6 1828.4,1434.4 1831.0,1441.6 1833.6,1438.0 1835.9,1443.6 1838.2,1464.9 1841.0,1461.5
1843.8,1449.3 1846.6,1454.3 1849.4,1443.6 1851.9,1449.6 1854.3,1461.2 1856.8,1466.8 1859.2,1454.1 1861.6,1459.1 1864.1,1447.0 1866.5,1454.4 1868.9,1442.6 1872.0,1441.0
1875.1,1448.2 1878.2,1443.6 1880.6,1443.5 1883.0,1454.7 1885.5,1450.6 1887.9,1462.8 1890.3,1464.9 1894.0,1456.6 1895.1,1386.3 1897.9,1386.3 1899.0,1428.7 1902.3,1452.9
1904.8,1435.6 1907.3,1441.2 1909.8,1424.1 1912.6,1437.8 1915.4,1456.6 1917.7,1450.7 1920.0,1439.9 1923.2,1445.9 1926.5,1459.4 1929.3,1454.4 1932.1,1438.0 1934.9,1446.6
1937.7,1466.8 1940.5,1454.2 1943.2,1432.4 1946.0,1438.7 1948.8,1452.1 1951.6,1446.3 1954.4,1461.2 1957.0,1457.1 1959.5,1442.1 1962.0,1446.4 1964.6,1434.3 1967.0,1434.2
1969.4,1444.6 1971.9,1435.7 1974.3,1443.3 1976.7,1439.9 1979.8,1441.3 1982.9,1453.9 1986.0,1461.2 1989.1,1445.7 1992.2,1451.6 1995.3,1436.1 1998.4,1443.1 2001.5,1456.4
2004.6,1456.6 2007.3,1452.7 2010.1,1456.6 2012.6,1453.4 2015.1,1438.8 2017.6,1431.5 2020.7,1440.2 2023.8,1429.5 2026.9,1432.4 2029.5,1442.6 2032.0,1437.6 2034.5,1455.1
2037.1,1463.1 2040.3,1447.9 2043.6,1441.7 2046.4,1456.5 2049.2,1462.2 2052.4,1442.5 2055.7,1434.3 2058.2,1442.1 2060.8,1435.9 2063.3,1441.3 2065.9,1438.0 2069.1,1456.6
2072.2,1442.8 2075.3,1446.3 2078.4,1432.8 2081.5,1438.4 2084.6,1450.9 2087.7,1453.8 2090.5,1444.0 2093.3,1448.7 2096.1,1437.1 2098.9,1446.9 2101.7,1464.9 2104.2,1459.0
2106.6,1444.0 2109.1,1438.9 2111.5,1445.9 2113.9,1438.3 2116.4,1445.3 2118.8,1436.4 2121.2,1439.9 2122.1,1454.7 2124.7,1458.3 2127.3,1449.6 2129.9,1456.8 2132.5,1448.7
2135.1,1456.6 2137.9,1449.8 2140.7,1432.8 2143.1,1437.8 2145.4,1450.1 2147.7,1446.8 2150.0,1433.9 2152.3,1436.9 2154.6,1449.1 2157.4,1445.1 2160.2,1434.3 2163.3,1435.7
2166.4,1444.2 2169.5,1441.7 2172.1,1441.4 2174.6,1450.4 2177.1,1443.9 2179.7,1456.6 2182.9,1450.4 2186.2,1437.1 2189.3,1441.5 2192.4,1451.4 2195.5,1455.7 2198.0,1440.9
2200.5,1443.9 2203.0,1430.9 2205.8,1430.3 2208.6,1439.0 2211.3,1429.7 2214.1,1433.3 2216.9,1443.9 2219.7,1451.9 2222.2,1442.8 2224.8,1448.6 2227.3,1438.7 2229.9,1438.0
2232.3,1450.4 2234.7,1442.0 2237.2,1455.3 2239.6,1447.3 2242.0,1462.2 2245.2,1450.8 2248.5,1430.0 2251.3,1433.4 2254.1,1446.6 2256.9,1440.9 2259.7,1450.6 2262.5,1454.7
2265.8,1434.6 2269.0,1430.6 2270.8,1430.6" fill="none" stroke="#940000" stroke-width="12" stroke-linejoin="round" stroke-linecap="round"/>
</g>
<g id="guides" filter="url(#hard)" stroke="#000" stroke-width="6.4" stroke-dasharray="8.6 14.8" stroke-linecap="round" fill="none">
<line x1="912" y1="416.2" x2="912" y2="1665"/>
<line x1="1218.3" y1="617.9" x2="1218.3" y2="1562.4"/>
</g>
<g id="ticklabels" filter="url(#hard)">
<text transform="translate(368.7,1665.2) scale(0.9835,0.9956)" font-size="100" fill="#000" stroke="#000" stroke-width="0.2">1000</text>
<text transform="translate(1012.7,1665.2) scale(0.9835,0.9956)" font-size="100" fill="#000" stroke="#000" stroke-width="0.2">1500</text>
<text transform="translate(1653.2,1665.2) scale(0.9932,0.9956)" font-size="100" fill="#000" stroke="#000" stroke-width="0.2">2000</text>
</g>
<g id="titles" filter="url(#hard)">
<text id="xtitle" transform="translate(775.0,1814.9) scale(0.9956,1.017)" font-size="125" fill="#000" stroke="#000" stroke-width="0.2">Raman shift (cm<tspan font-size="72" dx="6" dy="-61.5">-1</tspan><tspan dx="2" dy="61.5">)</tspan></text>
<text id="ytitle" transform="translate(160.1,1208.2) rotate(-90) scale(1.0075,1.02)" font-size="125" fill="#000" stroke="#000" stroke-width="0.2">Intensity (a.u.)</text>
</g>
<g id="bands" filter="url(#hard)">
<text transform="translate(776.1,246.5) scale(0.9695,0.9770)" font-size="100" fill="#000" stroke="#000" stroke-width="0.2">D band</text>
<text transform="translate(1068.2,572.4) scale(0.9671,0.9770)" font-size="100" fill="#000" stroke="#000" stroke-width="0.2">G band</text>
</g>
<g id="legend" filter="url(#hard)">
<line x1="1662.6" y1="239.0" x2="1834.1" y2="239.0" stroke="#000000" stroke-width="11.8" stroke-linecap="round"/>
<line x1="1662.6" y1="363.1" x2="1834.1" y2="363.1" stroke="#ff0080" stroke-width="11.8" stroke-linecap="round"/>
<line x1="1662.6" y1="486.0" x2="1834.1" y2="486.0" stroke="#940000" stroke-width="11.8" stroke-linecap="round"/>
<text transform="translate(1854.6,265.2) scale(0.9796,0.9790)" font-size="100" fill="#000000" stroke="#000000" stroke-width="0.2">s-350</text>
<text transform="translate(1854.6,388.2) scale(0.9796,0.9790)" font-size="100" fill="#ff0080" stroke="#ff0080" stroke-width="0.2">s-380</text>
<text transform="translate(1854.6,511.1) scale(0.9796,0.9790)" font-size="100" fill="#940000" stroke="#940000" stroke-width="0.2">s-320</text>
</g>
</svg>
</body>
</html>
